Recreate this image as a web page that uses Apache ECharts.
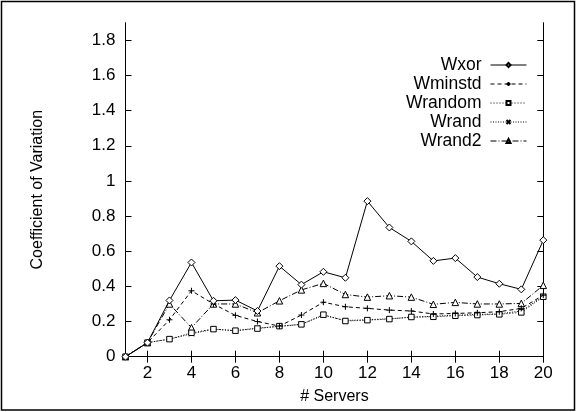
<!DOCTYPE html>
<html><head><meta charset="utf-8">
<script src="https://cdn.jsdelivr.net/npm/echarts@6/dist/echarts.min.js"></script>
<style>html,body{margin:0;padding:0;background:#fff}#c{width:577px;height:412px}</style>
</head><body><div id="c"></div>
<script>
const servers = [1,2,3,4,5,6,7,8,9,10,11,12,13,14,15,16,17,18,19,20];
const xTicks = [2,4,6,8,10,12,14,16,18,20];
const yTicks = [0,0.2,0.4,0.6,0.8,1,1.2,1.4,1.6,1.8];
const wxor    = [0,0.08,0.32,0.536,0.318,0.322,0.26,0.515,0.41,0.483,0.449,0.885,0.735,0.656,0.545,0.561,0.453,0.415,0.383,0.663];
const wminstd = [0,0.08,0.21,0.375,0.30,0.235,0.20,0.174,0.237,0.31,0.284,0.275,0.265,0.26,0.243,0.246,0.25,0.256,0.275,0.35];
const wrandom = [0,0.08,0.10,0.136,0.157,0.148,0.16,0.174,0.184,0.239,0.203,0.208,0.214,0.226,0.227,0.233,0.237,0.241,0.252,0.341];
const wrand   = [0,0.08,0.10,0.13,0.157,0.148,0.163,0.172,0.184,0.236,0.206,0.21,0.216,0.224,0.23,0.236,0.24,0.244,0.26,0.345];
const wrand2  = [0,0.08,0.30,0.165,0.30,0.30,0.25,0.318,0.38,0.417,0.354,0.339,0.347,0.339,0.298,0.309,0.30,0.30,0.303,0.406];
const seriesNames = ['Wxor','Wminstd','Wrandom','Wrand','Wrand2'];

const FONT = 'Liberation Sans';
const pairs = arr => servers.map((x,i)=>[x,arr[i]]);
const plus = 'path://M0,5L10,5M5,0L5,10';
const cross = 'path://M0,0L10,10M10,0L0,10';
const styles = [
  {data: wxor, symbol:'diamond', size:7, type:'solid', fill:'#fff'},
  {data: wminstd, symbol:plus, size:6, type:[4,3], fill:'none'},
  {data: wrandom, symbol:'rect', size:5.5, type:[1,2], fill:'#fff'},
  {data: wrand, symbol:cross, size:5, type:[1,1.5], fill:'none'},
  {data: wrand2, symbol:'triangle', size:6.5, type:[6,2,1,2], fill:'#fff'}
];
const series = styles.map((s,i)=>({
  name: seriesNames[i], type:'line', xAxisIndex:0, yAxisIndex:0,
  data: pairs(s.data), symbol: s.symbol, symbolSize: s.size, showSymbol:true,
  lineStyle:{color:'#000', width:1, type:s.type},
  itemStyle:{color:s.fill, borderColor:'#000', borderWidth:1},
  emphasis:{disabled:true}, animation:false, z: 10-i
}));

const axisBase = {
  axisLine:{show:true, lineStyle:{color:'#000', width:1}},
  splitLine:{show:false}
};
const chart = echarts.init(document.getElementById('c'), null, {renderer:'canvas'});
chart.setOption({
  animation:false,
  backgroundColor:'#fff',
  grid:{left:125.5, right:33.7, top:22.7, bottom:55.3, containLabel:false},
  xAxis:[
    Object.assign({}, axisBase, {type:'value', position:'bottom', min:1, max:20,
      name:'# Servers', nameLocation:'middle', nameGap:32,
      nameTextStyle:{fontFamily:FONT, fontSize:16, color:'#000'},
      axisTick:{show:true, inside:true, length:6, customValues:xTicks, lineStyle:{color:'#000'}},
      axisLabel:{show:true, customValues:xTicks, margin:8, fontFamily:FONT, fontSize:17, color:'#000'}}),
    Object.assign({}, axisBase, {type:'value', position:'top', min:1, max:20,
      axisTick:{show:true, inside:true, length:6, customValues:xTicks, lineStyle:{color:'#000'}},
      axisLabel:{show:false}})
  ],
  yAxis:[
    Object.assign({}, axisBase, {type:'value', position:'left', min:0, max:1.9,
      name:'Coefficient of Variation', nameLocation:'middle', nameRotate:90, nameGap:80,
      nameTextStyle:{fontFamily:FONT, fontSize:16, color:'#000'},
      axisTick:{show:true, inside:true, length:6, customValues:yTicks, lineStyle:{color:'#000'}},
      axisLabel:{show:true, customValues:yTicks, margin:10, fontFamily:FONT, fontSize:17, color:'#000'}}),
    Object.assign({}, axisBase, {type:'value', position:'right', min:0, max:1.9,
      axisTick:{show:true, inside:true, length:6, customValues:yTicks, lineStyle:{color:'#000'}},
      axisLabel:{show:false}})
  ],
  legend:{
    data: seriesNames, orient:'vertical', right:50, top:56, align:'right', padding:0,
    itemWidth:36, itemHeight:5, itemGap:1,
    lineStyle:{width:1},
    textStyle:{fontFamily:FONT, fontSize:17.5, color:'#000', lineHeight:16, padding:[0,4,0,0]},
    selectedMode:false
  },
  graphic:[{type:'rect', shape:{x:1.5, y:1.5, width:573, height:408.5},
    style:{fill:'none', stroke:'#000', lineWidth:1.5}, silent:true, z:100}],
  series
});
</script></body></html>
